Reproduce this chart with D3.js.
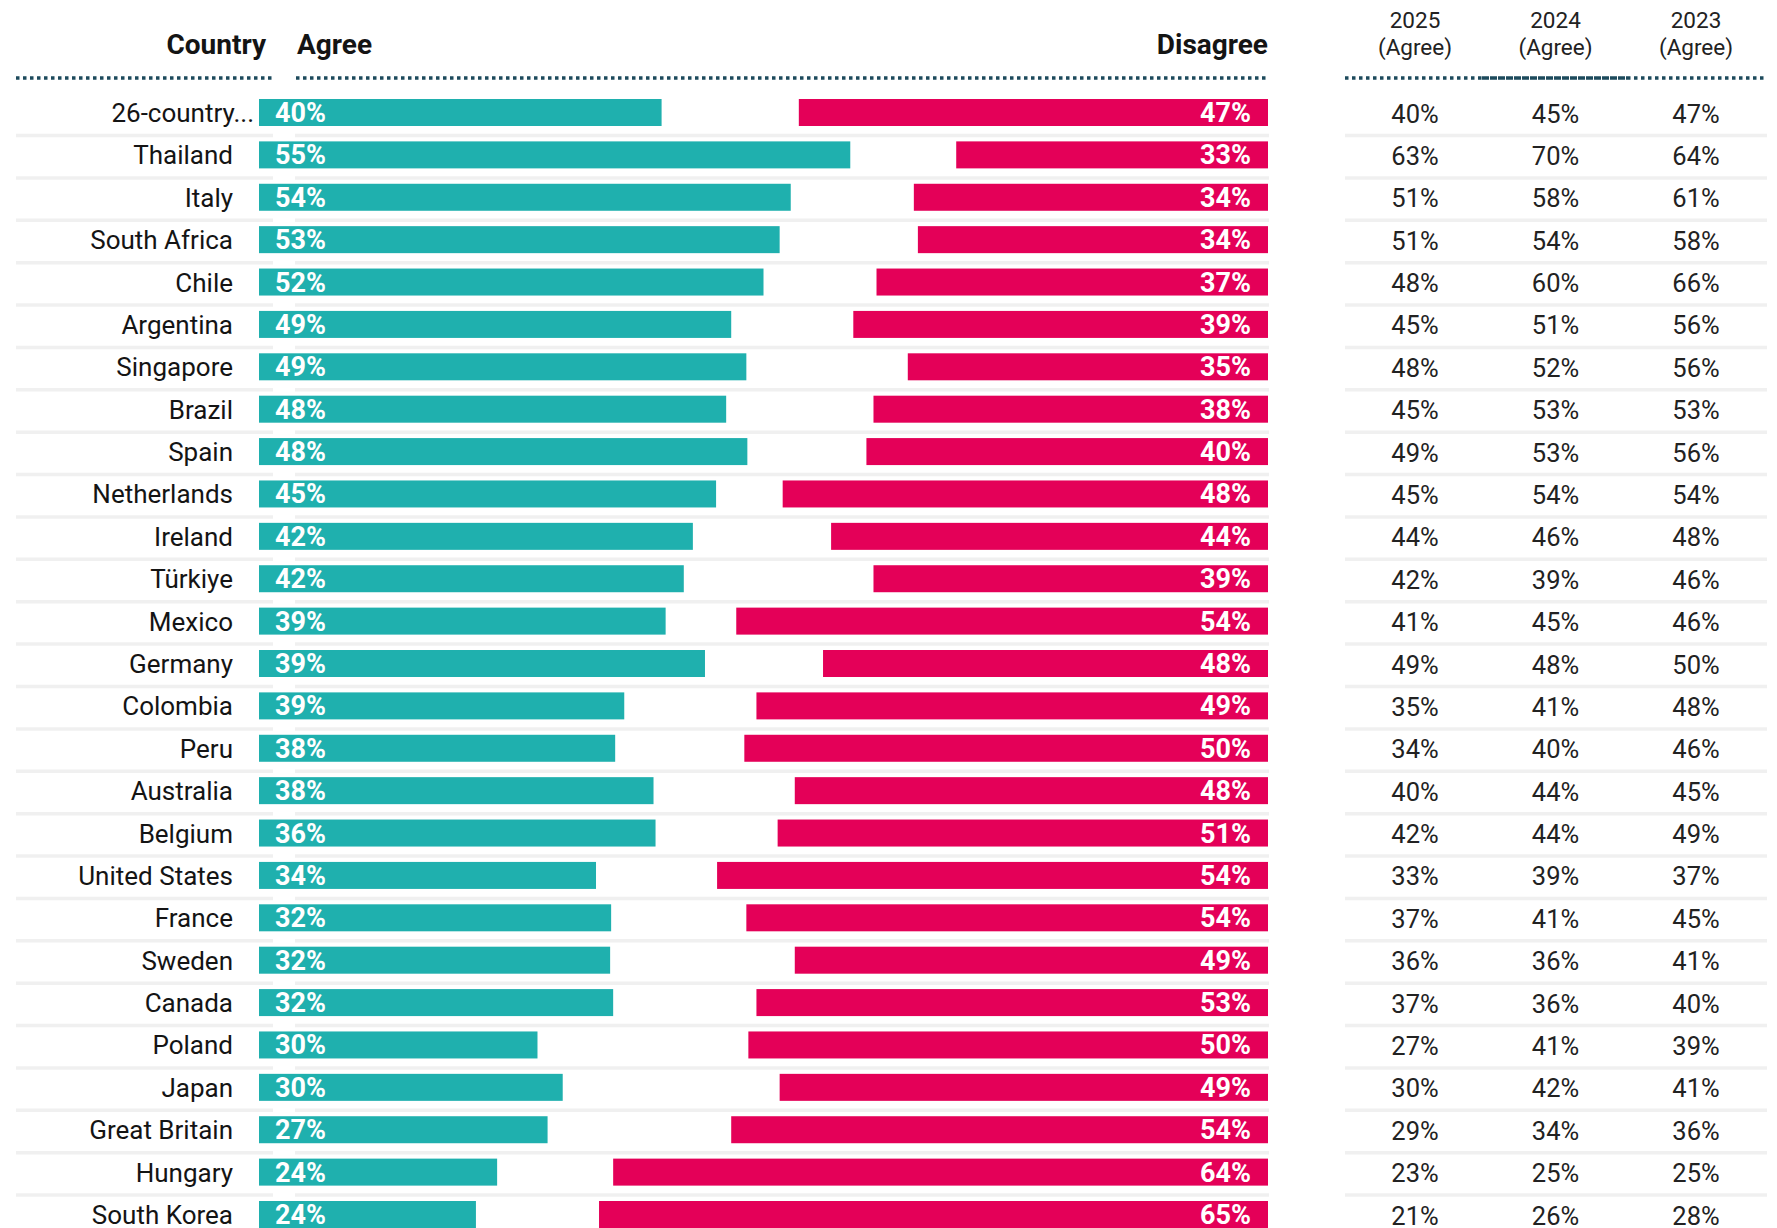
<!DOCTYPE html>
<html>
<head>
<meta charset="utf-8">
<script src="https://cdn.jsdelivr.net/npm/d3@7"></script>
<style>
  html, body { margin: 0; padding: 0; background: #fff; }
  svg { display: block; font-family: Roboto, "Noto Sans", sans-serif; }
</style>
</head>
<body>
<svg id="chart" width="1777" height="1228"></svg>
<script>
// ---- data ----
const countries = ["26-country...", "Thailand", "Italy", "South Africa", "Chile", "Argentina", "Singapore", "Brazil", "Spain", "Netherlands", "Ireland", "Türkiye", "Mexico", "Germany", "Colombia", "Peru", "Australia", "Belgium", "United States", "France", "Sweden", "Canada", "Poland", "Japan", "Great Britain", "Hungary", "South Korea"];
// bar lengths (percent of the bar track), as drawn
const agreeBar = [39.9, 58.6, 52.7, 51.6, 50.0, 46.8, 48.3, 46.3, 48.4, 45.3, 43.0, 42.1, 40.3, 44.2, 36.2, 35.3, 39.1, 39.3, 33.4, 34.9, 34.8, 35.1, 27.6, 30.1, 28.6, 23.6, 21.5];
const disagreeBar = [46.5, 30.9, 35.1, 34.7, 38.8, 41.1, 35.7, 39.1, 39.8, 48.1, 43.3, 39.1, 52.7, 44.1, 50.7, 51.9, 46.9, 48.6, 54.6, 51.7, 46.9, 50.7, 51.5, 48.4, 53.2, 64.9, 66.3];
// printed labels
const agreeLabel = [40, 55, 54, 53, 52, 49, 49, 48, 48, 45, 42, 42, 39, 39, 39, 38, 38, 36, 34, 32, 32, 32, 30, 30, 27, 24, 24];
const disagreeLabel = [47, 33, 34, 34, 37, 39, 35, 38, 40, 48, 44, 39, 54, 48, 49, 50, 48, 51, 54, 54, 49, 53, 50, 49, 54, 64, 65];
const agree2025 = [40, 63, 51, 51, 48, 45, 48, 45, 49, 45, 44, 42, 41, 49, 35, 34, 40, 42, 33, 37, 36, 37, 27, 30, 29, 23, 21];
const agree2024 = [45, 70, 58, 54, 60, 51, 52, 53, 53, 54, 46, 39, 45, 48, 41, 40, 44, 44, 39, 41, 36, 36, 41, 42, 34, 25, 26];
const agree2023 = [47, 64, 61, 58, 66, 56, 56, 53, 56, 54, 48, 46, 46, 50, 48, 46, 45, 49, 37, 45, 41, 40, 39, 41, 36, 25, 28];
const tableYears = ["2025", "2024", "2023"];
const tableHeaderSub = "(Agree)";

// ---- layout ----
const svg = d3.select("#chart");
const TEAL = "#1fb0ae", PINK = "#e40058", DOT = "#1d4a5c", SEP = "#f0f0f0", INK = "#141414";

const y = d3.scaleBand().domain(countries).range([99, 1228]).paddingInner(0.363).paddingOuter(0);
const x = d3.scaleLinear().domain([0, 100]).range([259, 1268]);
const colX = d3.scalePoint().domain(tableYears).range([1415, 1696]);
const tableCols = [agree2025, agree2024, agree2023];
const BASE = 23;

// separators between rows
const sepSegments = [[16, 273], [295, 1269], [1345, 1767]];
const sepRows = countries.slice(0, -1);
sepSegments.forEach(([x0, x1]) => {
  svg.append("g").selectAll("line").data(sepRows).join("line")
    .attr("x1", x0).attr("x2", x1)
    .attr("y1", d => y(d) + 36.5).attr("y2", d => y(d) + 36.5)
    .attr("stroke", SEP).attr("stroke-width", 3.5);
});

// dotted header rules
const dotted = [
  {x0: 16, x1: 273, dash: "3.5,3.5"},
  {x0: 296, x1: 1268, dash: "3.5,3.5"},
  {x0: 1345, x1: 1482, dash: "3.5,3.5"},
  {x0: 1482, x1: 1627, dash: "7,1"},
  {x0: 1627, x1: 1767, dash: "3.5,3.5"}
];
svg.append("g").selectAll("line").data(dotted).join("line")
  .attr("x1", d => d.x0).attr("x2", d => d.x1)
  .attr("y1", 78).attr("y2", 78)
  .attr("stroke", DOT).attr("stroke-width", 3.5)
  .attr("stroke-dasharray", d => d.dash);

// headers
const hdr = svg.append("g").attr("font-weight", 700).attr("font-size", 28).attr("fill", INK);
hdr.append("text").attr("x", 266).attr("y", 54).attr("text-anchor", "end").text("Country");
hdr.append("text").attr("x", 297).attr("y", 54).attr("text-anchor", "start").text("Agree");
hdr.append("text").attr("x", 1268).attr("y", 54).attr("text-anchor", "end").text("Disagree");

const th = svg.append("g").attr("font-size", 22.5).attr("fill", "#222").attr("text-anchor", "middle");
tableYears.forEach(yr => {
  th.append("text").attr("x", colX(yr)).attr("y", 28).text(yr);
  th.append("text").attr("x", colX(yr)).attr("y", 55).text(tableHeaderSub);
});

// country labels
svg.append("g").selectAll("text").data(countries).join("text")
  .attr("x", d => d.endsWith("...") ? 254 : 233)
  .attr("y", d => y(d) + BASE)
  .attr("text-anchor", "end")
  .attr("font-size", 26).attr("fill", INK)
  .text(d => d);

// agree bars
svg.append("g").selectAll("rect").data(countries).join("rect")
  .attr("x", x(0))
  .attr("y", d => y(d))
  .attr("width", (d, i) => x(agreeBar[i]) - x(0))
  .attr("height", y.bandwidth())
  .attr("fill", TEAL);

// disagree bars
svg.append("g").selectAll("rect").data(countries).join("rect")
  .attr("x", (d, i) => x(100 - disagreeBar[i]))
  .attr("y", d => y(d))
  .attr("width", (d, i) => x(100) - x(100 - disagreeBar[i]))
  .attr("height", y.bandwidth())
  .attr("fill", PINK);

// bar labels
svg.append("g").selectAll("text").data(countries).join("text")
  .attr("x", x(0) + 16)
  .attr("y", d => y(d) + BASE)
  .attr("font-size", 27).attr("font-weight", 700).attr("fill", "#fff")
  .text((d, i) => agreeLabel[i] + "%");

svg.append("g").selectAll("text").data(countries).join("text")
  .attr("x", x(100) - 17)
  .attr("y", d => y(d) + BASE)
  .attr("text-anchor", "end")
  .attr("font-size", 27).attr("font-weight", 700).attr("fill", "#fff")
  .text((d, i) => disagreeLabel[i] + "%");

// table values
tableYears.forEach((yr, c) => {
  svg.append("g").selectAll("text").data(countries).join("text")
    .attr("x", colX(yr))
    .attr("y", d => y(d) + BASE + 0.5)
    .attr("text-anchor", "middle")
    .attr("font-size", 25.5).attr("fill", "#222")
    .text((d, i) => tableCols[c][i] + "%");
});
</script>
</body>
</html>
